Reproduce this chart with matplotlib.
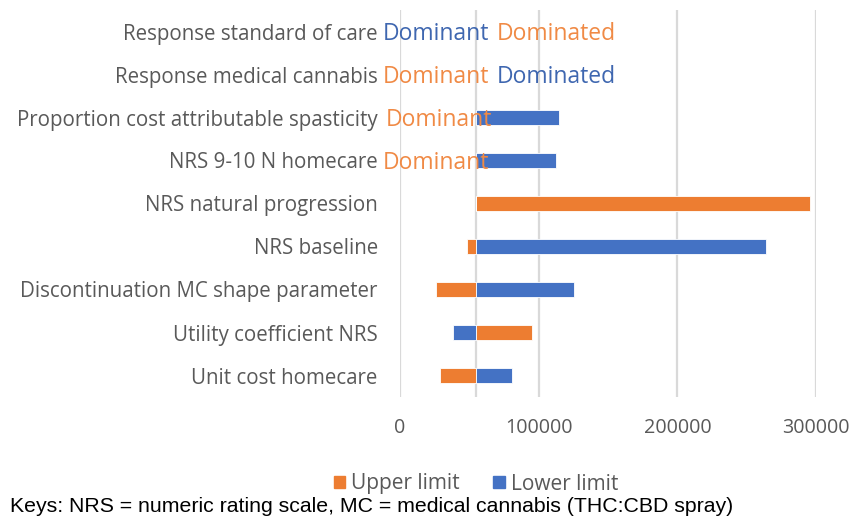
import matplotlib.pyplot as plt
import numpy as np
from matplotlib.patches import Patch

categories = ['Response standard of care', 'Response medical cannabis',
              'Proportion cost attributable spasticity', 'NRS 9-10 N homecare',
              'NRS natural progression', 'NRS baseline',
              'Discontinuation MC shape parameter', 'Utility coefficient NRS',
              'Unit cost homecare']
base = 55000
# ICER at the upper / lower parameter value (None = dominant/dominated, no bar)
upper_limit = [None, None, None, None, 296000, 48000, 26000, 95000, 28500]
lower_limit = [None, None, 115000, 112500, 55000, 264000, 125500, 38000, 80500]
# text labels for rows without bars: (text, series, x position)
row_text = {0: [('Dominant', 'lower', -12500), ('Dominated', 'upper', 69500)],
            1: [('Dominant', 'upper', -12500), ('Dominated', 'lower', 69500)],
            2: [('Dominant', 'upper', -10500)],
            3: [('Dominant', 'upper', -12500)]}
xticks = [0, 100000, 200000, 300000]

ORANGE = '#ED7D31'
BLUE = '#4472C4'
TXT_COLOR = {'upper': '#F08A45', 'lower': '#3F67B0'}
GREY = '#595959'

plt.rcParams['font.family'] = ['Open Sans', 'DejaVu Sans']

fig = plt.figure(figsize=(8.54, 5.18), dpi=100)
ax = fig.add_axes([400/854, 1-397/518, 416/854, 387/518])

y = np.arange(len(categories))
h = 0.36
for i in y:
    u, l = upper_limit[i], lower_limit[i]
    if u is not None:
        ax.barh(i, u - base, left=base, height=h, color=ORANGE,
                edgecolor='white', linewidth=0.6, zorder=3)
    if l is not None:
        ax.barh(i, l - base, left=base, height=h, color=BLUE,
                edgecolor='white', linewidth=0.6, zorder=3)

for i, items in row_text.items():
    for t, s, x0 in items:
        ax.text(x0, i + 0.05, t, color=TXT_COLOR[s], fontsize=16.5, ha='left',
                va='center', zorder=4, clip_on=False)

ax.set_xlim(0, 300000)
ax.set_ylim(len(categories) - 0.5, -0.5)
ax.set_xticks(xticks)
ax.set_xticklabels([str(v) for v in xticks])
ax.set_yticks(y)
ax.set_yticklabels(categories)
ax.tick_params(axis='y', length=0, pad=16, labelsize=14.8, labelcolor=GREY)
ax.tick_params(axis='x', length=0, pad=15, labelsize=14.2, labelcolor=GREY)
ax.grid(axis='x', color='#D9D9D9', linewidth=1.6, zorder=0)
ax.axvline(base, color='#D9D9D9', linewidth=1.6, zorder=1)
for s in ax.spines.values():
    s.set_visible(False)

handles = [Patch(color=ORANGE, label='Upper limit'),
           Patch(color=BLUE, label='Lower limit')]
fig.legend(handles=handles, loc='center', bbox_to_anchor=(476/854, 1-484/518),
           ncol=2, frameon=False, fontsize=15, labelcolor=GREY,
           handlelength=0.55, handleheight=0.55, handletextpad=0.3,
           columnspacing=1.6, borderpad=0)

fig.text(10/854, 1-507/518, 'Keys: NRS = numeric rating scale, MC = medical cannabis (THC:CBD spray)',
         family='Liberation Sans', fontsize=15.3, va='center', ha='left', color='black')

fig.savefig('out.png', dpi=100)
